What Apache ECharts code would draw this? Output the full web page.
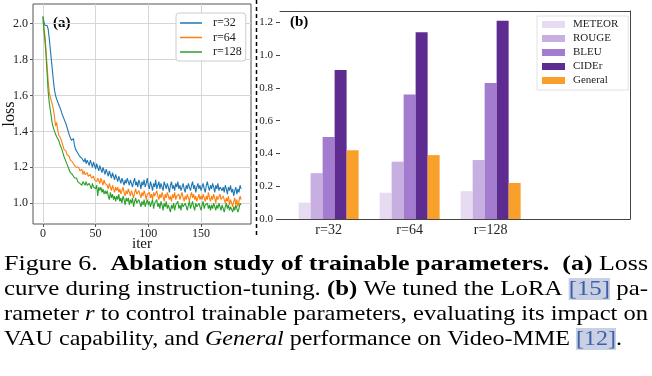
<!DOCTYPE html>
<html><head><meta charset="utf-8">
<script src="https://cdn.jsdelivr.net/npm/echarts@6/dist/echarts.min.js"></script>
<style>html,body{margin:0;padding:0;background:#fff}#c{width:652px;height:376px}</style>
</head><body><div id="c"></div>
<script>
// ---------- data (a): loss curves ----------
const lossR32 = [
2.04,2.01,1.99,1.98,1.99,1.97,1.92,1.86,1.80,1.74,
1.68,1.63,1.60,1.58,1.59,1.55,1.56,1.52,1.50,1.49,
1.47,1.48,1.44,1.42,1.41,1.38,1.39,1.35,1.34,1.36,
1.32,1.30,1.31,1.28,1.29,1.26,1.27,1.25,1.26,1.23,
1.25,1.22,1.24,1.23,1.21,1.24,1.22,1.20,1.23,1.21,
1.19,1.22,1.20,1.18,1.21,1.19,1.17,1.20,1.18,1.16,
1.19,1.17,1.15,1.18,1.16,1.14,1.17,1.15,1.13,1.16,
1.14,1.12,1.15,1.13,1.11,1.14,1.12,1.10,1.13,1.11,
1.14,1.12,1.10,1.13,1.11,1.09,1.12,1.14,1.10,1.12,
1.09,1.13,1.11,1.08,1.12,1.10,1.13,1.09,1.11,1.14,
1.10,1.08,1.12,1.10,1.07,1.11,1.09,1.13,1.08,1.10,
1.12,1.08,1.11,1.09,1.07,1.12,1.10,1.08,1.11,1.09,
1.06,1.10,1.12,1.08,1.10,1.07,1.11,1.09,1.12,1.08,
1.10,1.07,1.09,1.11,1.08,1.06,1.10,1.08,1.11,1.09,
1.07,1.10,1.12,1.08,1.10,1.06,1.09,1.11,1.08,1.10,
1.07,1.09,1.11,1.08,1.06,1.10,1.12,1.09,1.07,1.10,
1.08,1.11,1.09,1.06,1.10,1.08,1.11,1.07,1.09,1.10,
1.07,1.09,1.06,1.10,1.08,1.05,1.09,1.07,1.10,1.06,
1.08,1.04,1.07,1.09,1.05,1.08,1.06,1.10,1.08];
const lossR64 = [
2.02,1.98,1.93,1.85,1.76,1.68,1.62,1.59,1.57,1.55,
1.52,1.48,1.43,1.45,1.41,1.38,1.39,1.36,1.34,1.32,
1.30,1.31,1.29,1.27,1.28,1.26,1.24,1.25,1.23,1.22,
1.21,1.22,1.20,1.19,1.20,1.18,1.17,1.19,1.16,1.18,
1.16,1.15,1.17,1.15,1.14,1.16,1.14,1.13,1.15,1.13,
1.14,1.12,1.14,1.13,1.11,1.14,1.12,1.10,1.13,1.11,
1.12,1.10,1.08,1.11,1.09,1.07,1.10,1.08,1.06,1.09,
1.07,1.09,1.06,1.08,1.05,1.07,1.09,1.06,1.04,1.07,
1.05,1.08,1.06,1.04,1.07,1.05,1.03,1.06,1.08,1.05,
1.04,1.07,1.05,1.03,1.06,1.04,1.07,1.05,1.02,1.05,
1.04,1.06,1.03,1.05,1.02,1.06,1.04,1.03,1.07,1.04,
1.02,1.05,1.03,1.06,1.04,1.01,1.05,1.03,1.06,1.04,
1.02,1.04,1.01,1.05,1.03,1.06,1.02,1.04,1.03,1.05,
1.02,1.04,1.06,1.03,1.01,1.04,1.02,1.05,1.03,1.01,
1.04,1.06,1.03,1.05,1.02,1.04,1.01,1.03,1.05,1.02,
1.04,1.02,1.05,1.03,1.01,1.04,1.02,1.06,1.03,1.01,
1.04,1.02,1.05,1.03,1.00,1.04,1.02,1.03,1.05,1.02,
1.01,1.04,1.02,1.00,1.03,1.01,1.04,0.99,1.02,1.00,
0.98,1.01,1.03,0.99,1.02,0.98,1.01,1.04,1.02];
const lossR128 = [
2.04,1.96,1.90,1.82,1.72,1.62,1.56,1.52,1.48,1.44,
1.42,1.40,1.41,1.37,1.38,1.35,1.33,1.32,1.30,1.28,
1.26,1.25,1.23,1.22,1.20,1.19,1.17,1.18,1.16,1.15,
1.14,1.13,1.14,1.12,1.13,1.11,1.12,1.10,1.12,1.11,
1.10,1.12,1.10,1.09,1.11,1.10,1.08,1.11,1.09,1.10,
1.08,1.10,1.04,1.09,1.07,1.09,1.06,1.08,1.05,1.07,
1.05,1.07,1.04,1.02,1.06,1.03,1.05,1.02,1.04,1.01,
1.04,1.02,1.05,1.01,1.03,1.00,1.04,1.02,0.99,1.03,
1.01,1.03,0.99,1.02,1.00,1.03,0.98,1.01,1.03,1.00,
0.99,1.02,1.00,0.98,1.01,0.99,1.02,0.98,1.00,1.02,
0.99,1.01,0.98,1.00,1.02,0.97,1.00,0.99,1.02,0.98,
1.00,0.97,1.01,0.99,0.96,1.00,0.98,1.01,0.97,0.99,
0.98,0.95,0.99,0.97,1.00,0.96,0.99,0.98,1.01,0.97,
0.99,0.96,1.00,0.98,0.97,1.00,0.98,0.96,0.99,1.01,
0.97,0.99,1.01,0.98,0.96,1.00,0.98,0.97,1.00,0.98,
0.96,0.99,1.01,0.97,0.99,0.98,1.00,0.97,0.99,0.96,
0.99,0.97,1.00,0.98,0.96,0.99,0.97,1.00,0.98,0.96,
0.99,0.97,0.95,0.98,1.00,0.97,0.99,0.96,0.98,0.97,
0.95,0.98,0.96,0.99,0.97,0.95,0.97,1.00,0.99];
const lossNames = ['r=32','r=64','r=128'];
const lossXTicks = [0,50,100,150];
const lossYTicks = [1.0,1.2,1.4,1.6,1.8,2.0];

// ---------- data (b): bars ----------
const groups = ['r=32','r=64','r=128'];
const meteor  = [0.10,0.16,0.17];
const rouge   = [0.28,0.35,0.36];
const bleu    = [0.50,0.76,0.83];
const cider   = [0.91,1.14,1.21];
const general = [0.42,0.39,0.22];
const barNames = ['METEOR','ROUGE','BLEU','CIDEr','General'];
const barYTicks = [0.0,0.2,0.4,0.6,0.8,1.0,1.2];

// ---------- caption ----------
const captionLines = [
  [['Figure 6.  ','n'],['Ablation study of trainable parameters.','b'],['  ','n'],['(a)','b'],[' Loss','n']],
  [['curve during instruction-tuning. ','n'],['(b)','b'],[' We tuned the LoRA ','n'],['[15]','c'],[' pa-','n']],
  [['rameter ','n'],['r','i'],[' to control trainable parameters, evaluating its impact on','n']],
  [['VAU capability, and ','n'],['General','i'],[' performance on Video-MME ','n'],['[12]','c'],['.','n']]
];

const SERIF = 'Liberation Serif';
const lossColors = ['#1f77b4','#ff7f0e','#2ca02c'];
const barColors = ['#e6dbf0','#c8afe1','#a37bcf','#5e2c90','#f9a02a'];

const chart = echarts.init(document.getElementById('c'), null, {renderer:'canvas'});

// caption graphic construction
const capSize = 22;
const capTargets = [644, 644, 644, 618];
const capY = [264, 289, 314, 339];
const mctx = document.createElement('canvas').getContext('2d');
function fontFor(s){
  if (s==='b') return 'bold ' + capSize + 'px "' + SERIF + '"';
  if (s==='i') return 'italic ' + capSize + 'px "' + SERIF + '"';
  return capSize + 'px "' + SERIF + '"';
}
const capGraphics = captionLines.map((segs, k) => {
  let w = 0;
  segs.forEach(([t,s]) => { mctx.font = fontFor(s); w += mctx.measureText(t).width; });
  const text = segs.map(([t,s]) => '{' + s + '|' + t + '}').join('');
  return {
    type:'text', x:4, y:capY[k], scaleX: capTargets[k] / w, scaleY: 1,
    style:{
      text: text, fill:'#000', fontFamily: SERIF, fontSize: capSize,
      align:'left', verticalAlign:'middle',
      rich:{
        n:{fontFamily:SERIF, fontSize:capSize, fill:'#000'},
        b:{fontFamily:SERIF, fontSize:capSize, fontWeight:'bold', fill:'#000'},
        i:{fontFamily:SERIF, fontSize:capSize, fontStyle:'italic', fill:'#000'},
        c:{fontFamily:SERIF, fontSize:capSize, fill:'#3d5fa8', backgroundColor:'#c9d0e3'}
      }
    }
  };
});

const lossSeries = [lossR32, lossR64, lossR128].map((arr, k) => ({
  name: lossNames[k], type:'line', xAxisIndex:0, yAxisIndex:0,
  data: arr.map((v,i) => [i, v]), showSymbol:false, symbol:'none',
  lineStyle:{color:lossColors[k], width:1.1}, itemStyle:{color:lossColors[k]},
  animation:false, z:3
}));
const barSeries = [meteor, rouge, bleu, cider, general].map((arr, k) => ({
  name: barNames[k], type:'bar', xAxisIndex:1, yAxisIndex:1,
  data: arr.map((v,i) => [i, v]), barWidth:12, barGap:'0%',
  itemStyle:{color:barColors[k]}, animation:false
}));

const axisTxt = {fontFamily:SERIF, color:'#222'};

chart.setOption({
  animation:false,
  backgroundColor:'#fff',
  grid:[
    {left:33, top:4, width:218, height:220, show:true, borderColor:'#555', borderWidth:1,
     backgroundColor:'transparent', outerBoundsMode:'none', containLabel:false},
    {left:280, top:11, width:350, height:208, outerBoundsMode:'none', containLabel:false}
  ],
  xAxis:[
    {gridIndex:0, type:'value', min:-9.4, max:197.4,
     name:'iter', nameLocation:'middle', nameGap:13, nameMoveOverlap:false,
     nameTextStyle:{fontFamily:SERIF, fontSize:15, color:'#111'},
     axisLine:{show:false, onZero:false},
     axisTick:{show:true, length:3, lineStyle:{color:'#555'}, customValues:lossXTicks},
     axisLabel:Object.assign({customValues:lossXTicks, margin:4, fontSize:12}, axisTxt),
     splitLine:{show:true, lineStyle:{color:'#d6d6d6', width:1}}},
    {gridIndex:1, type:'value', min:-0.6, max:3.72,
     axisLine:{show:true, onZero:false, lineStyle:{color:'#444', width:1}},
     axisTick:{show:false},
     axisLabel:Object.assign({customValues:[0,1,2], formatter:v => groups[Math.round(v)], margin:4, fontSize:14}, axisTxt),
     splitLine:{show:false}},
    {gridIndex:1, type:'value', position:'top', min:-0.6, max:3.72,
     axisLine:{show:true, onZero:false, lineStyle:{color:'#444', width:1}},
     axisTick:{show:false}, axisLabel:{show:false}, splitLine:{show:false}}
  ],
  yAxis:[
    {gridIndex:0, type:'value', min:0.884, max:2.11,
     name:'loss', nameLocation:'middle', nameGap:15, nameMoveOverlap:false,
     nameTextStyle:{fontFamily:SERIF, fontSize:16, color:'#111'},
     axisLine:{show:false, onZero:false},
     axisTick:{show:true, length:3, lineStyle:{color:'#555'}, customValues:lossYTicks},
     axisLabel:Object.assign({customValues:lossYTicks, formatter:v => v.toFixed(1), margin:5, fontSize:12}, axisTxt),
     splitLine:{show:true, lineStyle:{color:'#d6d6d6', width:1}}},
    {gridIndex:1, type:'value', min:0, max:1.27,
     axisLine:{show:false, onZero:false},
     axisTick:{show:true, length:4, lineStyle:{color:'#444'}, customValues:barYTicks},
     axisLabel:Object.assign({customValues:barYTicks, formatter:v => v.toFixed(1), margin:7, fontSize:11}, axisTxt),
     splitLine:{show:false}},
    {gridIndex:1, type:'value', position:'right', min:0, max:1.27,
     axisLine:{show:true, onZero:false, lineStyle:{color:'#444', width:1}},
     axisTick:{show:false}, axisLabel:{show:false}, splitLine:{show:false}}
  ],
  legend:[
    {data:lossNames, orient:'vertical', left:176, top:13, padding:[4,4,3,4], itemGap:2.5,
     itemWidth:22, itemHeight:1.5, icon:'rect', backgroundColor:'#fff',
     borderColor:'#cccccc', borderWidth:1, borderRadius:3,
     textStyle:{fontFamily:SERIF, fontSize:12, color:'#222', padding:[0,0,0,6]}},
    {data:barNames, orient:'vertical', left:537, top:16, padding:[3,10,4,5], itemGap:3,
     itemWidth:23, itemHeight:7, icon:'rect', backgroundColor:'#fff',
     borderColor:'#e2e2e2', borderWidth:1, borderRadius:0,
     textStyle:{fontFamily:SERIF, fontSize:11, color:'#222', padding:[0,0,0,3]}}
  ],
  series: lossSeries.concat(barSeries),
  graphic:[
    {type:'text', x:53, y:23, style:{text:'(a)', fontFamily:SERIF, fontSize:15, fontWeight:'bold', fill:'#000', verticalAlign:'middle'}},
    {type:'text', x:290, y:22.5, style:{text:'(b)', fontFamily:SERIF, fontSize:15, fontWeight:'bold', fill:'#000', verticalAlign:'middle'}},
    {type:'line', shape:{x1:256.5, y1:0, x2:256.5, y2:236}, style:{stroke:'#000', lineWidth:1.5, lineDash:[4,3]}}
  ].concat(capGraphics)
});
</script>
</body></html>
